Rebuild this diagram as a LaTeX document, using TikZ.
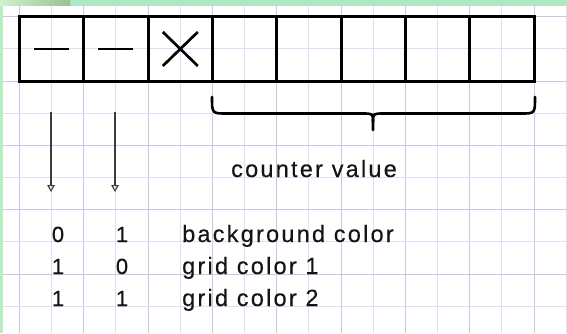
\documentclass[tikz,border=0pt]{standalone}
\usepackage{fontspec}
\setmainfont{Liberation Sans}[FakeBold=0.3]
\newfontfamily\spacedfont[LetterSpace=9.5,FakeBold=0.3]{Liberation Sans}
\usetikzlibrary{arrows.meta}
\definecolor{gridlight}{RGB}{222,222,248}
\definecolor{griddark}{RGB}{200,200,230}
\definecolor{bandgreen}{RGB}{172,232,196}
\definecolor{stripgreen}{RGB}{184,236,194}
\definecolor{gradA}{RGB}{210,240,204}
\definecolor{gradB}{RGB}{150,196,148}
\definecolor{arrowgray}{RGB}{60,60,60}
\definecolor{textblack}{RGB}{20,20,20}
\tikzset{
  cell/.style={draw=black, line width=3pt, minimum width=64.4pt, minimum height=64.3pt, inner sep=0pt, outer sep=0pt},
  mark stroke/.style={line width=2.7pt, black},
  arr/.style={arrowgray, line width=1.3pt, -{Triangle[open, length=7pt, width=7.5pt, line width=1.1pt]}},
  bracestroke/.style={black, line width=2.6pt, line cap=round},
  lbl/.style={font=\spacedfont\fontsize{23.5}{27}\selectfont, text=textblack, inner sep=0pt, anchor=base west},
  digit/.style={font=\fontsize{22}{26}\selectfont, text=textblack, inner sep=0pt, anchor=base},
}
\begin{document}
\begin{tikzpicture}[x=1pt,y=-1pt]
\useasboundingbox (0,0) rectangle (567,333);
\fill[white] (0,0) rectangle (567,333);
% grid
\foreach \k in {0,...,17}{
  \pgfmathsetmacro{\gx}{19.5+32.16*\k}
  \ifodd\k
    \draw[gridlight, line width=1pt] (\gx,5.5) -- (\gx,333);
  \else
    \draw[griddark, line width=1pt] (\gx,5.5) -- (\gx,333);
  \fi
}
\foreach \j in {0,...,9}{
  \pgfmathsetmacro{\gy}{16.8+32.16*\j}
  \ifodd\j
    \draw[gridlight, line width=1pt] (2.5,\gy) -- (567,\gy);
  \else
    \draw[griddark, line width=1pt] (2.5,\gy) -- (567,\gy);
  \fi
}
% top band and left strip
\fill[bandgreen] (0,0) rectangle (567,5.5);
\shade[left color=gradA, right color=gradB] (0,0) rectangle (70,5.5);
\fill[stripgreen] (0,5.5) rectangle (2.5,333);
% cells
\foreach \i in {1,...,8}{
  \node[cell] (c\i) at ({19.5+64.32*(\i-0.5)},48.95) {};
}
% marks in cells
\draw[mark stroke] ([xshift=-17.5pt]c1.center) -- ([xshift=17.5pt]c1.center);
\draw[mark stroke] ([xshift=-17.5pt]c2.center) -- ([xshift=17.5pt]c2.center);
\draw[mark stroke] ([shift={(-17.5pt,17pt)}]c3.center) -- ([shift={(17.5pt,-17pt)}]c3.center);
\draw[mark stroke] ([shift={(-17.5pt,-17pt)}]c3.center) -- ([shift={(17.5pt,17pt)}]c3.center);
% arrows
\coordinate (a1s) at (51,112);
\coordinate (a1e) at (51,192);
\coordinate (a2s) at (115,112);
\coordinate (a2e) at (115,192);
\draw[arr] (a1s) -- (a1e);
\draw[arr] (a2s) -- (a2e);
% brace
\coordinate (bl) at (212,97);
\coordinate (br) at (535,97);
\coordinate (bt) at (373,130);
\draw[bracestroke] (bl) .. controls (212,113.5) .. (227,113.5) -- (362,113.5)
  .. controls (373,113.5) .. (373,122) -- (bt);
\draw[bracestroke] (373,122) .. controls (373,113.5) .. (384,113.5) -- (521,113.5)
  .. controls (535,113.5) .. (br);
% labels
\node[lbl] (cv) at (231,177) {counter value};
\node[digit] (d11) at (58,242) {0};
\node[digit] (d12) at (122,242) {1};
\node[lbl] (t1) at (182,242) {background color};
\node[digit] (d21) at (58,274) {1};
\node[digit] (d22) at (122,274) {0};
\node[lbl] (t2) at (182,274) {grid color 1};
\node[digit] (d31) at (58,306) {1};
\node[digit] (d32) at (122,306) {1};
\node[lbl] (t3) at (182,306) {grid color 2};
\end{tikzpicture}
\end{document}
